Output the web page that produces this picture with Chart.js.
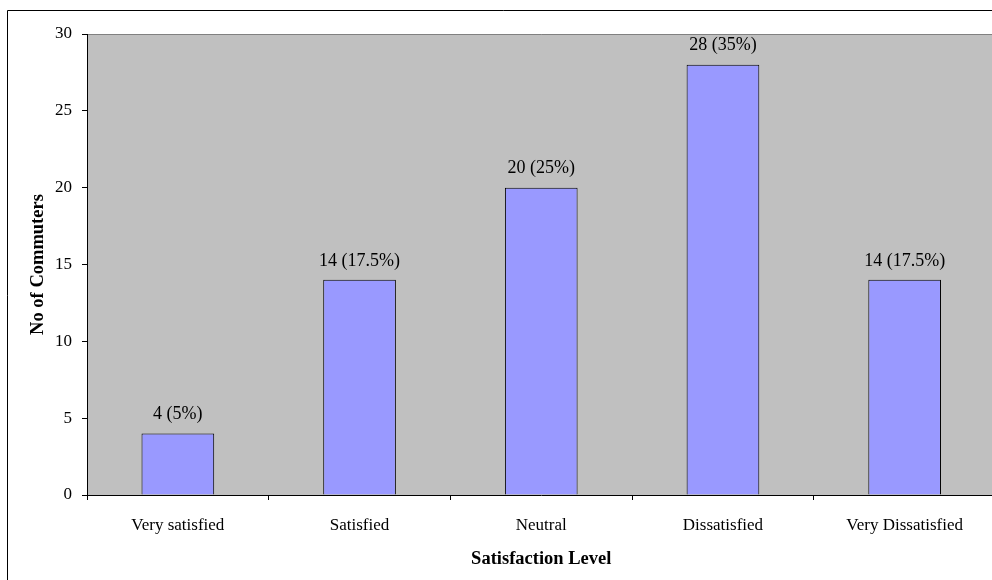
<!DOCTYPE html>
<html>
<head>
<meta charset="utf-8">
<script src="https://cdn.jsdelivr.net/npm/chart.js@4/dist/chart.umd.min.js"></script>
<style>
  html, body { margin: 0; padding: 0; background: #fff; overflow: hidden; }
  #wrap { width: 1000px; height: 580px; position: relative; }
</style>
</head>
<body>
<div id="wrap"><canvas id="satChart"></canvas></div>
<script>
// data
const levels = ["Very satisfied", "Satisfied", "Neutral", "Dissatisfied", "Very Dissatisfied"];
const commuters = [4, 14, 20, 28, 14];
const shares = ["5%", "17.5%", "25%", "35%", "17.5%"];
const yTicks = [0, 5, 10, 15, 20, 25, 30];

const FONT = "'Liberation Serif', 'Times New Roman', serif";

// gray plot area + outer frame
const frame = {
  id: "frame",
  beforeDraw(chart) {
    const { ctx, chartArea: a } = chart;
    ctx.save();
    ctx.fillStyle = "#fff";
    ctx.fillRect(0, 0, chart.width, chart.height);
    ctx.strokeStyle = "#000";
    ctx.lineWidth = 1;
    ctx.beginPath();
    ctx.moveTo(7.5, chart.height);
    ctx.lineTo(7.5, 10.5);
    ctx.lineTo(chart.width, 10.5);
    ctx.stroke();
    ctx.fillStyle = "#C0C0C0";
    ctx.fillRect(a.left, a.top, a.right - a.left, a.bottom - a.top);
    ctx.strokeStyle = "#808080";
    ctx.beginPath();
    ctx.moveTo(a.left, a.top + 0.5);
    ctx.lineTo(a.right, a.top + 0.5);
    ctx.stroke();
    ctx.restore();
  }
};

// value labels above the bars
const barLabels = {
  id: "barLabels",
  afterDatasetsDraw(chart) {
    const { ctx } = chart;
    const meta = chart.getDatasetMeta(0);
    ctx.save();
    ctx.font = "18px " + FONT;
    ctx.fillStyle = "#000";
    ctx.textAlign = "center";
    ctx.textBaseline = "bottom";
    meta.data.forEach((bar, i) => {
      ctx.fillText(commuters[i] + " (" + shares[i] + ")", bar.x, bar.y - 10);
    });
    ctx.restore();
  }
};

new Chart(document.getElementById("satChart").getContext("2d"), {
  type: "bar",
  data: {
    labels: levels,
    datasets: [
      {
        label: "No of Commuters",
        data: commuters,
        backgroundColor: "#9999FF",
        borderColor: "#000",
        borderWidth: 1,
        borderSkipped: "bottom",
        categoryPercentage: 1,
        barPercentage: 0.4,
      },
    ],
  },
  options: {
    responsive: true,
    maintainAspectRatio: false,
    animation: false,
    layout: { padding: { top: 34, right: 4.5, left: 0, bottom: 0 } },
    plugins: { legend: { display: false }, tooltip: { enabled: false } },
    scales: {
      x: {
        afterFit(scale) { scale.height = 85; },
        grid: {
          offset: true,
          drawOnChartArea: false,
          drawTicks: true,
          tickLength: 5,
          color: "#000",
        },
        border: { color: "#000", width: 1 },
        ticks: { color: "#000", padding: 15, font: { family: FONT, size: 17 } },
        title: {
          display: true,
          text: "Satisfaction Level",
          color: "#000",
          padding: { top: 0, bottom: 10 },
          font: { family: FONT, size: 18.5, weight: "bold" },
        },
      },
      y: {
        min: 0,
        max: 30,
        afterFit(scale) { scale.width = 87; },
        afterBuildTicks(scale) { scale.ticks = yTicks.map(v => ({ value: v })); },
        grid: {
          drawOnChartArea: false,
          drawTicks: true,
          tickLength: 5,
          color: "#000",
        },
        border: { color: "#000", width: 1 },
        ticks: { color: "#000", padding: 10, font: { family: FONT, size: 17 } },
        title: {
          display: true,
          text: "No of Commuters",
          color: "#000",
          padding: { top: 27, bottom: 0 },
          font: { family: FONT, size: 18.5, weight: "bold" },
        },
      },
    },
  },
  plugins: [frame, barLabels],
});
</script>
</body>
</html>
